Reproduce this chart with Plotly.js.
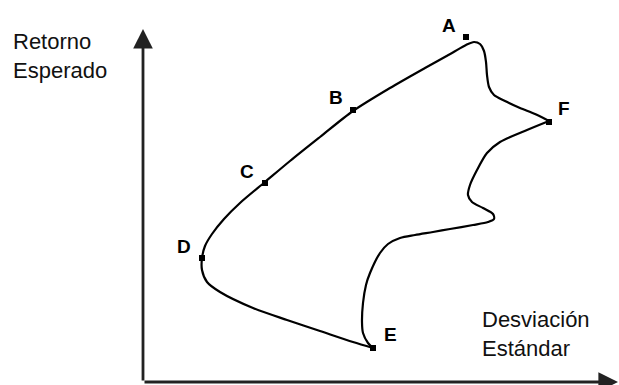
<!DOCTYPE html>
<html>
<head>
<meta charset="utf-8">
<script src="https://cdn.plot.ly/plotly-3.0.1.min.js"></script>
<style>html,body{margin:0;padding:0;background:#fff;}#chart{width:619px;height:385px;}</style>
</head>
<body>
<div id="chart"></div>
<script>
// Efficient frontier sketch: standard deviation (x) vs expected return (y), arbitrary units
// Upper branch: E -> D -> C -> B -> A -> F
const upperRisk = [230,210,177,144,110,77,64,59,59,62,69,81,97,122,147,177,210,247,282,309,323,331,337,341,343,344,346,351,362,377,392,406];
const upperReturn = [34,40,51,62,74,90,100,112,124,136,148,163,179,200,221,245,271,294,314,329,337,340,338,331,320,307,295,287,281,274,268,261];
// Lower branch: F -> E
const lowerRisk = [406,384,357,344,334,327,325,329,340,350,351,345,330,307,290,272,257,245,237,227,223,220,219,220,225,230];
const lowerReturn = [261,252,240,229,212,197,187,180,174,168,163,160,157,153,150,147,144,138,129,109,97,79,60,49,39,34];
// Marked portfolios
const pointNames = ["A","B","C","D","E","F"];
const pointRisk = [323,210,122,59,230,406];
const pointReturn = [345,272,199,124,34,260];
const labelRisk = [306,193,104,41,247,421];
const labelReturn = [357,285,211,136,48,274];
const axisTitleX = "Desviación<br>Estándar";
const axisTitleY = "Retorno<br>Esperado";
const axisEnd = {x: 475, y: 353};

const lineStyle = {color:'#000', width:2.2, shape:'spline', smoothing:0.8};
const traces = [
  {x: upperRisk, y: upperReturn, mode:'lines', line: lineStyle, hoverinfo:'skip'},
  {x: lowerRisk, y: lowerReturn, mode:'lines', line: lineStyle, hoverinfo:'skip'},
  {x: pointRisk, y: pointReturn, mode:'markers', marker:{symbol:'square', size:6, color:'#000'}, hoverinfo:'skip'}
];

const annotations = pointNames.map((n,i)=>({
  x: labelRisk[i], y: labelReturn[i], xref:'x', yref:'y', text: n, showarrow:false,
  font:{family:'Liberation Sans, Arial, sans-serif', size:19, color:'#000', weight:'bold'},
  xanchor:'center', yanchor:'middle'
}));
// axes as arrows
annotations.push({x: axisEnd.x, y: 0, ax: 0, ay: 0, xref:'x', yref:'y', axref:'x', ayref:'y',
  showarrow:true, arrowhead:2, arrowsize:1.4, arrowwidth:2.8, arrowcolor:'#222', standoff:0, startstandoff:0, text:''});
annotations.push({x: 0, y: axisEnd.y, ax: 0, ay: 0, xref:'x', yref:'y', axref:'x', ayref:'y',
  showarrow:true, arrowhead:2, arrowsize:1.4, arrowwidth:2.8, arrowcolor:'#222', standoff:0, startstandoff:0, text:''});
annotations.push({x: -132, y: 326, xref:'x', yref:'y', text: axisTitleY, showarrow:false, align:'left',
  xanchor:'left', yanchor:'middle', font:{family:'Liberation Sans, Arial, sans-serif', size:22, color:'#111'}});
annotations.push({x: 337, y: 48, xref:'x', yref:'y', text: axisTitleX, showarrow:false, align:'left',
  xanchor:'left', yanchor:'middle', font:{family:'Liberation Sans, Arial, sans-serif', size:22, color:'#111'}});

const layout = {
  width:619, height:385, autosize:false,
  margin:{l:0,r:0,t:0,b:0,pad:0},
  paper_bgcolor:'#fff', plot_bgcolor:'#fff',
  showlegend:false,
  xaxis:{range:[-143,476], visible:false, fixedrange:true},
  yaxis:{range:[-3,382], visible:false, fixedrange:true},
  annotations: annotations
};
Plotly.newPlot('chart', traces, layout, {staticPlot:true, displayModeBar:false});
</script>
</body>
</html>
